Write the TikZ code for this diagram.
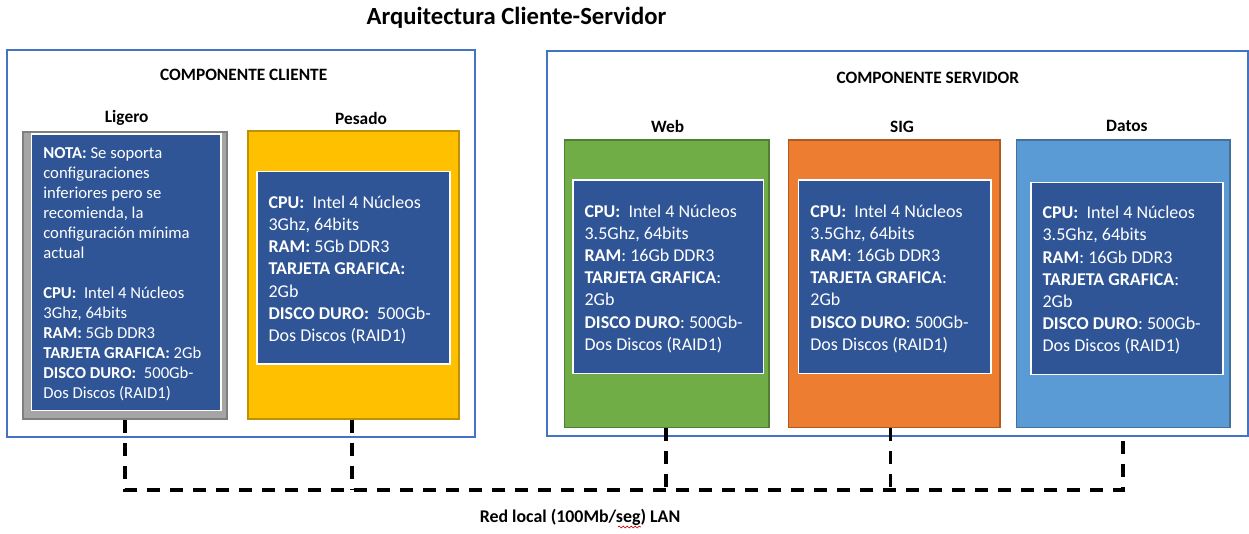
\documentclass[tikz,border=0pt]{standalone}
\usepackage{fontspec}
\setmainfont{Carlito}
\usetikzlibrary{fit,decorations.pathmorphing}
\definecolor{frameblue}{HTML}{4472C4}
\definecolor{specblue}{HTML}{2F5597}
\definecolor{grayfill}{HTML}{A5A5A5}
\definecolor{grayedge}{HTML}{7F7F7F}
\definecolor{yellowfill}{HTML}{FFC000}
\definecolor{yellowedge}{HTML}{BF9000}
\definecolor{greenfill}{HTML}{70AD47}
\definecolor{greenedge}{HTML}{507E32}
\definecolor{orangefill}{HTML}{ED7D31}
\definecolor{orangeedge}{HTML}{AE5A21}
\definecolor{lbluefill}{HTML}{5B9BD5}
\definecolor{lblueedge}{HTML}{41719C}
\newcommand\srvspecs{\textbf{CPU:}\ \ Intel 4 Núcleos\\ 3.5Ghz, 64bits\\ \textbf{RAM}: 16Gb DDR3\\ \textbf{TARJETA GRAFICA}:\\ 2Gb\\ \textbf{DISCO DURO}: 500Gb-\\ Dos Discos (RAID1)}
\begin{document}
\begin{tikzpicture}[x=0.75pt,y=-0.75pt,
  framebox/.style={draw=frameblue, line width=1.5pt, inner sep=0pt},
  hostbox/.style={inner sep=0pt, line width=0.8pt},
  specbox/.style={draw=white, line width=1pt, fill=specblue, inner sep=0pt},
  spectext/.style={text=white, align=left, inner sep=0pt, anchor=west, yshift=-1.5pt, font=\fontsize{13.5}{16.65}\selectfont},
  lbl/.style={font=\bfseries\fontsize{13}{15}\selectfont, inner sep=0pt},
  bus/.style={line width=2.4pt, dash pattern=on 9.75pt off 7.5pt}
]
\useasboundingbox (0,0) rectangle (1249,533);

\node[font=\bfseries\fontsize{18.5}{22}\selectfont, inner sep=0pt] (title) at (516.5,18) {Arquitectura Cliente-Servidor};

% outer frames
\node[framebox, fit={(7,50) (475,437)}] (cli) {};
\node[framebox, fit={(547,51) (1247.5,435.5)}] (srv) {};

\node[lbl] (tcli) at (243.7,75) {COMPONENTE CLIENTE};
\node[lbl] (tsrv) at (927.8,78) {COMPONENTE SERVIDOR};

\node[lbl] (tlig) at (126.7,117.5) {Ligero};
\node[lbl] (tpes) at (361,118) {Pesado};
\node[lbl] (tweb) at (667.6,126) {Web};
\node[lbl] (tsig) at (902,127) {SIG};
\node[lbl] (tdat) at (1126.9,126) {Datos};

% host boxes
\node[hostbox, draw=grayedge, line width=1.5pt, fill=grayfill, fit={(23,131.5) (227,419)}] (lig) {};
\node[hostbox, draw=yellowedge, fill=yellowfill, fit={(248,131) (459,419)}] (pes) {};
\node[hostbox, draw=greenedge, fill=greenfill, fit={(564.5,140) (769,427.7)}] (web) {};
\node[hostbox, draw=orangeedge, fill=orangefill, fit={(788.5,140) (1000,427.7)}] (sig) {};
\node[hostbox, draw=lblueedge, fill=lbluefill, fit={(1016.5,140) (1230,427.7)}] (dat) {};

% spec boxes
\node[specbox, fit={(31.7,134) (221,410.7)}] (ligbox) {};
\node[specbox, fit={(257,171.7) (450,364)}] (pesbox) {};
\node[specbox, fit={(573,180) (763.5,373.3)}] (webbox) {};
\node[specbox, fit={(798.8,180) (991,373.3)}] (sigbox) {};
\node[specbox, fit={(1031,182.3) (1223,374.3)}] (datbox) {};

\node[spectext, font=\fontsize{12.5}{15}\selectfont] (ligspec) at ([xshift=9pt]ligbox.west)
  {\textbf{NOTA:} Se soporta\\ configuraciones\\ inferiores pero se\\ recomienda, la\\ configuración mínima\\ actual\\[15pt]
   \textbf{CPU:}\ \ Intel 4 Núcleos\\ 3Ghz, 64bits\\ \textbf{RAM:} 5Gb DDR3\\ \textbf{TARJETA GRAFICA:} 2Gb\\ \textbf{DISCO DURO:}\ \ 500Gb-\\ Dos Discos (RAID1)};
\node[spectext] (pesspec) at ([xshift=9pt]pesbox.west)
  {\textbf{CPU:}\ \ Intel 4 Núcleos\\ 3Ghz, 64bits\\ \textbf{RAM:} 5Gb DDR3\\ \textbf{TARJETA GRAFICA:}\\ 2Gb\\ \textbf{DISCO DURO:}\ \ 500Gb-\\ Dos Discos (RAID1)};
\node[spectext] (webspec) at ([xshift=9pt]webbox.west) {\srvspecs};
\node[spectext] (sigspec) at ([xshift=9pt]sigbox.west) {\srvspecs};
\node[spectext] (datspec) at ([xshift=9pt]datbox.west) {\srvspecs};

% network
\coordinate (busL) at (125,490);
\coordinate (busR) at (1123,490);
\draw[bus] (lig.south) -- (busL) -- (busR) -- (srv.south -| busR);
\draw[bus] (pes.south -| 352,0) -- (352,490);
\draw[bus] (web.south -| 666,0) -- (666,490);
\draw[bus] (sig.south -| 890.5,0) -- (890.5,490);

\node[font=\bfseries\fontsize{13.4}{16}\selectfont, inner sep=0pt] (lan) at (580,517.5) {Red local (100Mb/seg) LAN};
\draw[red!80!black, line width=0.5pt, decorate, decoration={snake, amplitude=0.7pt, segment length=3pt}] (618,527) -- (641,527);
\end{tikzpicture}
\end{document}
